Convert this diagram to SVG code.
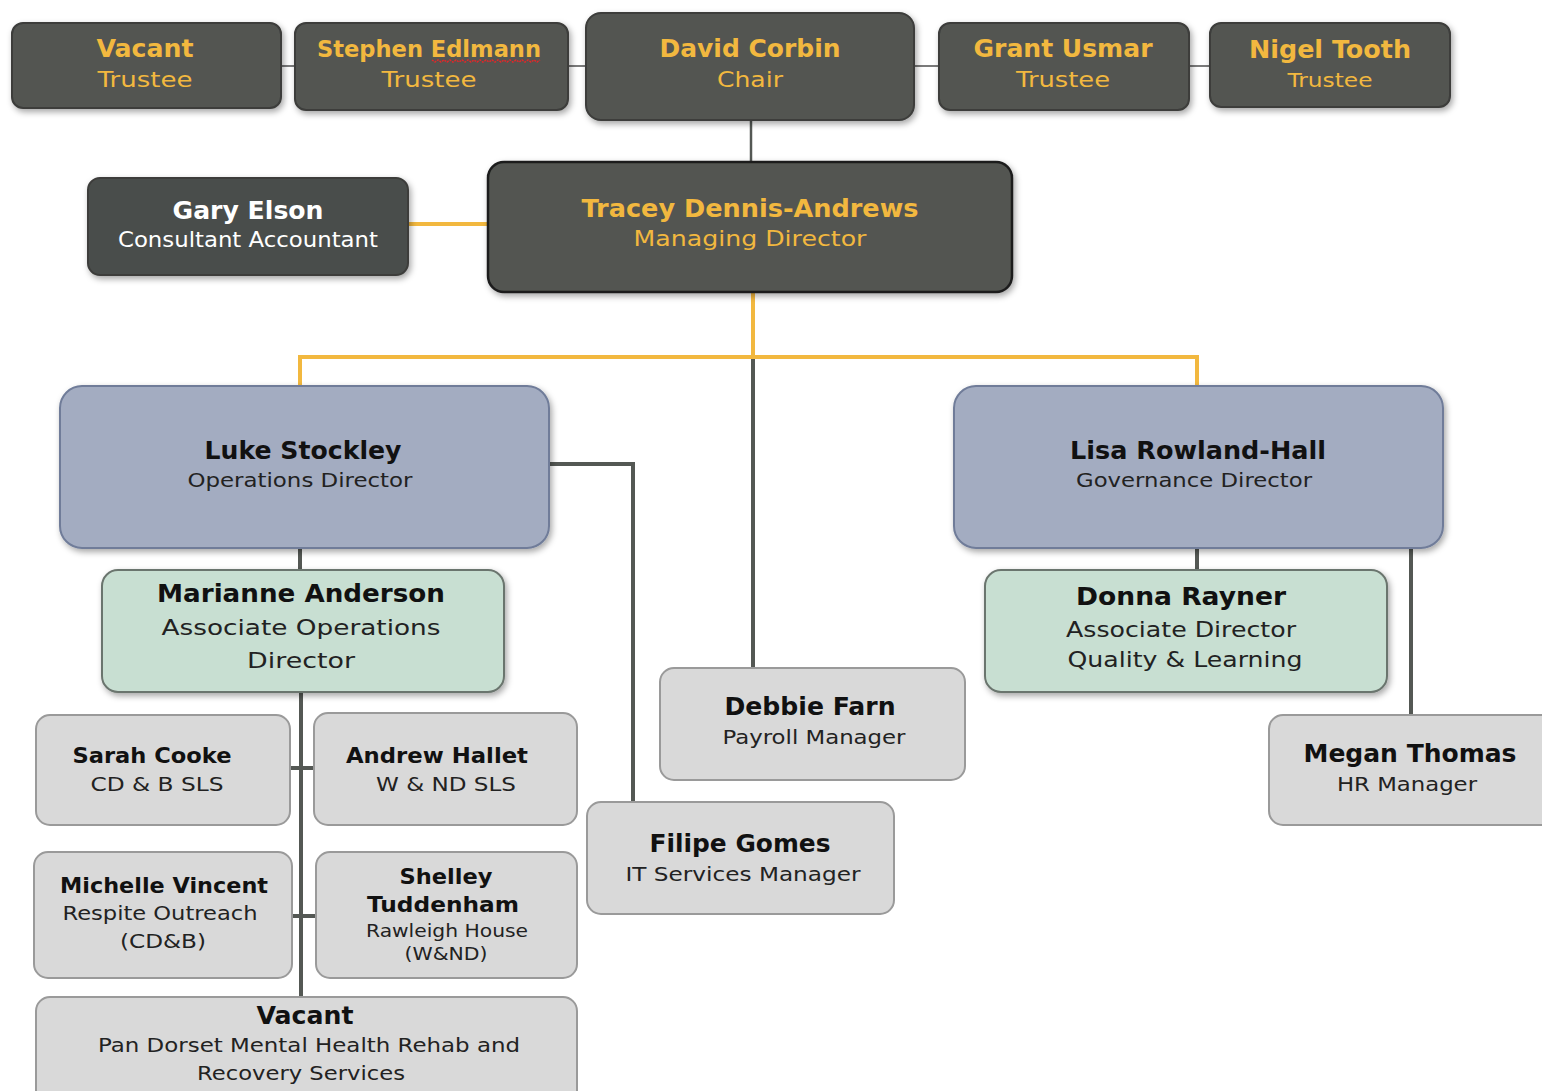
<svg xmlns="http://www.w3.org/2000/svg" width="1542" height="1091" viewBox="0 0 1542 1091">
<defs>
<filter id="sh" x="-10%" y="-10%" width="125%" height="130%">
<feDropShadow dx="2" dy="3" stdDeviation="3" flood-color="#000" flood-opacity="0.35"/>
</filter>
<style>
text{font-family:"DejaVu Sans","Verdana",sans-serif;text-anchor:middle}
.dark{fill:#525451;stroke:#3c3d3b;stroke-width:2;filter:url(#sh)}
.gary{fill:#4a4e4b;stroke:#3c3d3b;stroke-width:2;filter:url(#sh)}
.md{fill:#525451;stroke:#1e1e1e;stroke-width:2.5;filter:url(#sh)}
.blue{fill:#A3ACC1;stroke:#6F7C99;stroke-width:2;filter:url(#sh)}
.green{fill:#C8DFD2;stroke:#6b756e;stroke-width:2;filter:url(#sh)}
.grey{fill:#D9D9D9;stroke:#9a9a9a;stroke-width:2}
.ob{fill:#F2B83F;font-weight:bold}
.o{fill:#F2B83F}
.wb{fill:#ffffff;font-weight:bold}
.w{fill:#ffffff}
.kb{fill:#111;font-weight:bold}
.k{fill:#222}
.cg{stroke:#545854;stroke-width:4;fill:none}
.ct{stroke:#7a7a7a;stroke-width:2;fill:none}
.co{stroke:#F2B83F;stroke-width:4;fill:none}
</style>
</defs>
<rect width="1542" height="1091" fill="#ffffff"/>
<g id="connectors">
<line class="ct" x1="281" y1="66" x2="295" y2="66"/>
<line class="ct" x1="568" y1="66" x2="586" y2="66"/>
<line class="ct" x1="914" y1="66" x2="939" y2="66"/>
<line class="ct" x1="1189" y1="66" x2="1210" y2="66"/>
<line class="cg" x1="751" y1="120" x2="751" y2="162" style="stroke-width:2.5"/>
<line class="co" x1="408" y1="224" x2="488" y2="224"/>
<line class="co" x1="753" y1="292" x2="753" y2="357"/>
<polyline class="co" points="300,386 300,357 1197,357 1197,386"/>
<line class="cg" x1="753" y1="359" x2="753" y2="668"/>
<polyline class="cg" points="549,464 633,464 633,802"/>
<line class="cg" x1="300" y1="548" x2="300" y2="570"/>
<line class="cg" x1="301" y1="692" x2="301" y2="997"/>
<line class="cg" x1="290" y1="768" x2="314" y2="768"/>
<line class="cg" x1="292" y1="916" x2="316" y2="916"/>
<line class="cg" x1="1197" y1="548" x2="1197" y2="570"/>
<line class="cg" x1="1411" y1="548" x2="1411" y2="715"/>
</g>
<g id="vacant-trustee">
<rect class="dark" x="12" y="23" width="269" height="85" rx="11"/>
<text class="ob" x="145" y="57" font-size="24" textLength="97" lengthAdjust="spacingAndGlyphs">Vacant</text>
<text class="o" x="145" y="87" font-size="22" textLength="95" lengthAdjust="spacingAndGlyphs">Trustee</text>
</g>
<g id="stephen-edlmann">
<rect class="dark" x="295" y="23" width="273" height="87" rx="11"/>
<text class="ob" x="429" y="57" font-size="23" textLength="224" lengthAdjust="spacingAndGlyphs">Stephen Edlmann</text>
<path d="M432 60 l3 2 l3 -2 l3 2 l3 -2 l3 2 l3 -2 l3 2 l3 -2 l3 2 l3 -2 l3 2 l3 -2 l3 2 l3 -2 l3 2 l3 -2 l3 2 l3 -2 l3 2 l3 -2 l3 2 l3 -2 l3 2 l3 -2 l3 2 l3 -2 l3 2 l3 -2 l3 2 l3 -2 l3 2 l3 -2 l3 2 l3 -2 l3 2 l3 -2" fill="none" stroke="#e0282a" stroke-width="1.5" stroke-dasharray="2 1"/>
<text class="o" x="429" y="87" font-size="22" textLength="95" lengthAdjust="spacingAndGlyphs">Trustee</text>
</g>
<g id="david-corbin">
<rect class="dark" x="586" y="13" width="328" height="107" rx="15"/>
<text class="ob" x="750" y="57" font-size="24" textLength="181" lengthAdjust="spacingAndGlyphs">David Corbin</text>
<text class="o" x="750" y="87" font-size="22" textLength="66" lengthAdjust="spacingAndGlyphs">Chair</text>
</g>
<g id="grant-usmar">
<rect class="dark" x="939" y="23" width="250" height="87" rx="11"/>
<text class="ob" x="1063" y="57" font-size="24" textLength="179" lengthAdjust="spacingAndGlyphs">Grant Usmar</text>
<text class="o" x="1063" y="87" font-size="22" textLength="94" lengthAdjust="spacingAndGlyphs">Trustee</text>
</g>
<g id="nigel-tooth">
<rect class="dark" x="1210" y="23" width="240" height="84" rx="11"/>
<text class="ob" x="1330" y="58" font-size="24" textLength="162" lengthAdjust="spacingAndGlyphs">Nigel Tooth</text>
<text class="o" x="1330" y="87" font-size="20" textLength="85" lengthAdjust="spacingAndGlyphs">Trustee</text>
</g>
<g id="gary-elson">
<rect class="gary" x="88" y="178" width="320" height="97" rx="12"/>
<text class="wb" x="248" y="219" font-size="24" textLength="151" lengthAdjust="spacingAndGlyphs">Gary Elson</text>
<text class="w" x="248" y="247" font-size="21" textLength="260" lengthAdjust="spacingAndGlyphs">Consultant Accountant</text>
</g>
<g id="tracey-dennis-andrews">
<rect class="md" x="488" y="162" width="524" height="130" rx="16"/>
<text class="ob" x="750" y="217" font-size="24" textLength="337" lengthAdjust="spacingAndGlyphs">Tracey Dennis-Andrews</text>
<text class="o" x="750" y="246" font-size="22" textLength="233" lengthAdjust="spacingAndGlyphs">Managing Director</text>
</g>
<g id="luke-stockley">
<rect class="blue" x="60" y="386" width="489" height="162" rx="22"/>
<text class="kb" x="303" y="459" font-size="24" textLength="197" lengthAdjust="spacingAndGlyphs">Luke Stockley</text>
<text class="k" x="300" y="487" font-size="20" textLength="225" lengthAdjust="spacingAndGlyphs">Operations Director</text>
</g>
<g id="lisa-rowland-hall">
<rect class="blue" x="954" y="386" width="489" height="162" rx="22"/>
<text class="kb" x="1198" y="459" font-size="24" textLength="256" lengthAdjust="spacingAndGlyphs">Lisa Rowland-Hall</text>
<text class="k" x="1194" y="487" font-size="20" textLength="236" lengthAdjust="spacingAndGlyphs">Governance Director</text>
</g>
<g id="marianne-anderson">
<rect class="green" x="102" y="570" width="402" height="122" rx="16"/>
<text class="kb" x="301" y="602" font-size="24" textLength="288" lengthAdjust="spacingAndGlyphs">Marianne Anderson</text>
<text class="k" x="301" y="635" font-size="22" textLength="279" lengthAdjust="spacingAndGlyphs">Associate Operations</text>
<text class="k" x="301" y="668" font-size="22" textLength="108" lengthAdjust="spacingAndGlyphs">Director</text>
</g>
<g id="donna-rayner">
<rect class="green" x="985" y="570" width="402" height="122" rx="16"/>
<text class="kb" x="1181" y="605" font-size="24" textLength="210" lengthAdjust="spacingAndGlyphs">Donna Rayner</text>
<text class="k" x="1181" y="637" font-size="22" textLength="230" lengthAdjust="spacingAndGlyphs">Associate Director</text>
<text class="k" x="1185" y="667" font-size="22" textLength="235" lengthAdjust="spacingAndGlyphs">Quality &amp; Learning</text>
</g>
<g id="sarah-cooke">
<rect class="grey" x="36" y="715" width="254" height="110" rx="14"/>
<text class="kb" x="152" y="763" font-size="22" textLength="159" lengthAdjust="spacingAndGlyphs">Sarah Cooke</text>
<text class="k" x="157" y="791" font-size="20" textLength="133" lengthAdjust="spacingAndGlyphs">CD &amp; B SLS</text>
</g>
<g id="andrew-hallet">
<rect class="grey" x="314" y="713" width="263" height="112" rx="14"/>
<text class="kb" x="437" y="763" font-size="22" textLength="182" lengthAdjust="spacingAndGlyphs">Andrew Hallet</text>
<text class="k" x="446" y="791" font-size="20" textLength="140" lengthAdjust="spacingAndGlyphs">W &amp; ND SLS</text>
</g>
<g id="michelle-vincent">
<rect class="grey" x="34" y="852" width="258" height="126" rx="14"/>
<text class="kb" x="164" y="893" font-size="22" textLength="208" lengthAdjust="spacingAndGlyphs">Michelle Vincent</text>
<text class="k" x="160" y="920" font-size="20" textLength="195" lengthAdjust="spacingAndGlyphs">Respite Outreach</text>
<text class="k" x="163" y="948" font-size="20" textLength="86" lengthAdjust="spacingAndGlyphs">(CD&amp;B)</text>
</g>
<g id="shelley-tuddenham">
<rect class="grey" x="316" y="852" width="261" height="126" rx="14"/>
<text class="kb" x="446" y="884" font-size="22" textLength="93" lengthAdjust="spacingAndGlyphs">Shelley</text>
<text class="kb" x="443" y="912" font-size="22" textLength="152" lengthAdjust="spacingAndGlyphs">Tuddenham</text>
<text class="k" x="447" y="937" font-size="18" textLength="162" lengthAdjust="spacingAndGlyphs">Rawleigh House</text>
<text class="k" x="446" y="960" font-size="18" textLength="83" lengthAdjust="spacingAndGlyphs">(W&amp;ND)</text>
</g>
<g id="vacant-pan-dorset">
<rect class="grey" x="36" y="997" width="541" height="110" rx="14"/>
<text class="kb" x="305" y="1024" font-size="24" textLength="97" lengthAdjust="spacingAndGlyphs">Vacant</text>
<text class="k" x="309" y="1052" font-size="20" textLength="422" lengthAdjust="spacingAndGlyphs">Pan Dorset Mental Health Rehab and</text>
<text class="k" x="301" y="1080" font-size="20" textLength="208" lengthAdjust="spacingAndGlyphs">Recovery Services</text>
</g>
<g id="debbie-farn">
<rect class="grey" x="660" y="668" width="305" height="112" rx="14"/>
<text class="kb" x="810" y="715" font-size="24" textLength="171" lengthAdjust="spacingAndGlyphs">Debbie Farn</text>
<text class="k" x="814" y="744" font-size="20" textLength="183" lengthAdjust="spacingAndGlyphs">Payroll Manager</text>
</g>
<g id="filipe-gomes">
<rect class="grey" x="587" y="802" width="307" height="112" rx="14"/>
<text class="kb" x="740" y="852" font-size="24" textLength="181" lengthAdjust="spacingAndGlyphs">Filipe Gomes</text>
<text class="k" x="743" y="881" font-size="20" textLength="235" lengthAdjust="spacingAndGlyphs">IT Services Manager</text>
</g>
<g id="megan-thomas">
<rect class="grey" x="1269" y="715" width="290" height="110" rx="14"/>
<text class="kb" x="1410" y="762" font-size="24" textLength="213" lengthAdjust="spacingAndGlyphs">Megan Thomas</text>
<text class="k" x="1407" y="791" font-size="20" textLength="140" lengthAdjust="spacingAndGlyphs">HR Manager</text>
</g>
</svg>
